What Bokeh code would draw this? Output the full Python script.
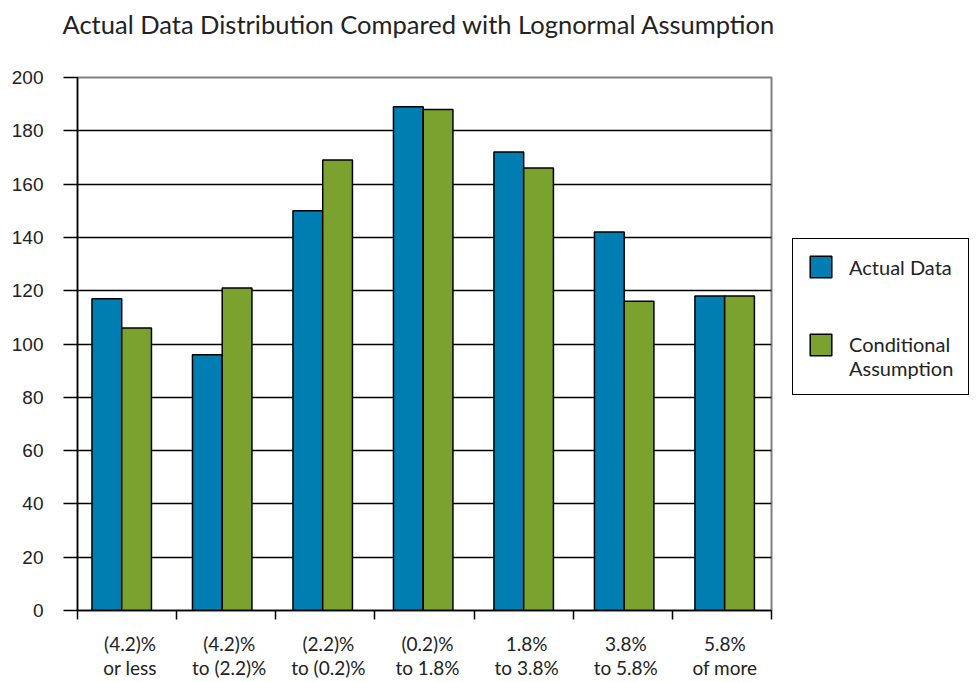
import numpy as np
from bokeh.plotting import figure
from bokeh.layouts import row
from bokeh.models import Range1d, FixedTicker, Legend, LegendItem, Title
from bokeh.embed import file_html
from bokeh.resources import INLINE

# ---- data ----
categories = ["(4.2)%\nor less", "(4.2)%\nto (2.2)%", "(2.2)%\nto (0.2)%",
              "(0.2)%\nto 1.8%", "1.8%\nto 3.8%", "3.8%\nto 5.8%", "5.8%\nof more"]
actual = [117, 96, 150, 189, 172, 142, 118]
conditional = [106, 121, 169, 188, 166, 116, 118]
y_ticks = list(range(0, 201, 20))
series_names = ["Actual Data", "Conditional\nAssumption"]
title_text = "Actual Data Distribution Compared with Lognormal Assumption"

BLUE = "#007DB1"
GREEN = "#7BA22F"
TEXT = "#222222"

H = 682
W_MAIN = 780
W_LEG = 192
FL, FR, FT, FB = 77, 771, 77, 610  # frame edges in canvas px

n = len(categories)
p = figure(width=W_MAIN, height=H, output_backend="svg", toolbar_location=None,
           x_range=Range1d(0, n), y_range=Range1d(0, 200),
           min_border_left=FL, min_border_right=W_MAIN - FR,
           min_border_top=FT, min_border_bottom=H - FB,
           title=None)

# spacer (nearest to frame) then the title
p.add_layout(Title(text=" ", text_font_size="20px"), "above")
p.add_layout(Title(text=title_text, text_font="Lato", text_font_size="25.5px",
                   text_font_style="normal", text_color=TEXT, align="left",
                   offset=-15), "above")

p.outline_line_color = "#808080"
p.outline_line_width = 2
p.background_fill_color = "white"
p.border_fill_color = "white"

# bars
idx = np.arange(n)
centers = idx * 1.0136 + 0.446
bw = 0.3
r1 = p.vbar(x=centers - bw / 2, top=actual, width=bw, fill_color=BLUE,
            line_color="black", line_width=1.5)
r2 = p.vbar(x=centers + bw / 2, top=conditional, width=bw, fill_color=GREEN,
            line_color="black", line_width=1.5)

# y axis
p.yaxis.ticker = FixedTicker(ticks=y_ticks)
p.yaxis.major_tick_out = 14
p.yaxis.major_tick_in = 0
p.yaxis.minor_tick_line_color = None
p.yaxis.axis_line_color = "black"
p.yaxis.axis_line_width = 1.5
p.yaxis.major_tick_line_width = 1.5
p.yaxis.major_label_text_font = "Liberation Sans"
p.yaxis.major_label_text_font_size = "19px"
p.yaxis.major_label_text_color = TEXT
p.yaxis.major_label_standoff = 20

# x axis: category labels as major ticks, group boundaries as minor ticks
label_pos = [i + 0.53 for i in range(n)]
p.xaxis.ticker = FixedTicker(ticks=label_pos, minor_ticks=list(range(n + 1)))
p.xaxis.major_label_overrides = {pos: cat for pos, cat in zip(label_pos, categories)}
p.xaxis.major_tick_line_color = None
p.xaxis.major_tick_out = 0
p.xaxis.major_tick_in = 0
p.xaxis.minor_tick_out = 9
p.xaxis.minor_tick_in = 0
p.xaxis.minor_tick_line_color = "black"
p.xaxis.minor_tick_line_width = 1.5
p.xaxis.axis_line_color = "black"
p.xaxis.axis_line_width = 1.5
p.xaxis.major_label_standoff = 12
p.xaxis.major_label_text_font = "Lato"
p.xaxis.major_label_text_font_size = "19px"
p.xaxis.major_label_text_color = TEXT
p.xaxis.major_label_text_line_height = 1.05

p.xgrid.grid_line_color = None
p.ygrid.ticker = FixedTicker(ticks=y_ticks[1:-1])
p.ygrid.grid_line_color = "black"
p.ygrid.grid_line_width = 1.3

# legend panel: proxy renderers sit behind the opaque legend box
pl = figure(width=W_LEG, height=H, output_backend="svg", toolbar_location=None,
            x_range=Range1d(0, 1), y_range=Range1d(0, 1),
            min_border=0, outline_line_color=None)
pl.axis.visible = False
pl.grid.visible = False
l1 = pl.vbar(x=[0.5], top=[0.55], bottom=[0.5], width=0.1, fill_color=BLUE,
             line_color="black", line_width=1.5)
l2 = pl.vbar(x=[0.5], top=[0.55], bottom=[0.5], width=0.1, fill_color=GREEN,
             line_color="black", line_width=1.5)

legend = Legend(items=[LegendItem(label=series_names[0], renderers=[l1]),
                       LegendItem(label="\n" + series_names[1], renderers=[l2])],
                location=(12, 215))
legend.glyph_width = 27
legend.glyph_height = 27
legend.padding = 14
legend.spacing = 28
legend.margin = 0
legend.label_standoff = 15
legend.label_width = 105
legend.border_line_color = "black"
legend.border_line_alpha = 1.0
legend.border_line_width = 1.5
legend.label_text_font = "Lato"
legend.label_text_font_size = "20px"
legend.label_text_color = TEXT
legend.background_fill_color = "white"
legend.background_fill_alpha = 1
pl.add_layout(legend)

layout = row(p, pl)
open("out.html", "w").write(file_html(layout, INLINE))
